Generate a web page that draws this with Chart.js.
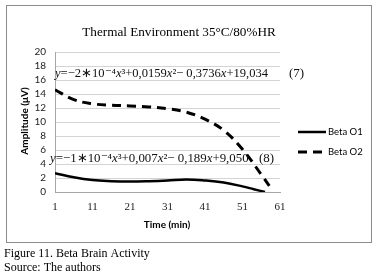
<!DOCTYPE html>
<html>
<head>
<meta charset="utf-8">
<script src="https://cdn.jsdelivr.net/npm/chart.js@4"></script>
<style>
  html, body { margin: 0; padding: 0; background: #fff; }
  #wrap { position: relative; width: 382px; height: 279px; }
</style>
</head>
<body>
<div id="wrap"><canvas id="chart" width="382" height="279"></canvas></div>
<script>
// values
let minutesO1 = [1, 6, 11, 16, 21, 26, 31, 36, 41, 46, 51, 54, 57];
let betaO1 = [2.7, 2.1, 1.7, 1.55, 1.5, 1.55, 1.65, 1.8, 1.65, 1.35, 0.8, 0.4, 0];
let minutesO2 = [1, 6, 11, 16, 21, 26, 31, 36, 41, 46, 51, 56, 58.5];
let betaO2 = [14.6, 13.2, 12.6, 12.4, 12.3, 12.15, 11.9, 11.4, 10.4, 8.8, 6.1, 2.5, 0.6];
let xTicks = [1, 11, 21, 31, 41, 51, 61];
let yTicks = [0, 2, 4, 6, 8, 10, 12, 14, 16, 18, 20];
let seriesNames = ["Beta O1", "Beta O2"];

const serif = "'Liberation Serif', 'Times New Roman', serif";
const sans = "Lato, 'Open Sans', sans-serif";

function toPoints(xs, ys) {
  return xs.map((x, i) => ({ x: x, y: ys[i] }));
}

// draws an equation stretched to a given width, italic for the variables
function drawEquation(ctx, parts, x, y, width) {
  let total = 0;
  parts.forEach(p => {
    ctx.font = (p[1] ? "italic " : "") + "12px " + serif;
    total += ctx.measureText(p[0]).width;
  });
  const size = 12 * width / total;
  parts.forEach(p => {
    ctx.font = (p[1] ? "italic " : "") + size + "px " + serif;
    ctx.fillText(p[0], x, y);
    x += ctx.measureText(p[0]).width;
  });
}

const eq7 = [["y", 1], ["=\u22122\u221710\u207B\u2074", 0], ["x", 1], ["\u00B3+0,0159", 0], ["x", 1], ["\u00B2\u2212 0,3736", 0], ["x", 1], ["+19,034", 0]];
const eq8 = [["y", 1], ["=\u22121\u221710\u207B\u2074", 0], ["x", 1], ["\u00B3+0,007", 0], ["x", 1], ["\u00B2\u2212 0,189", 0], ["x", 1], ["+9,050", 0]];

const decorations = {
  id: "decorations",
  beforeDraw(chart) {
    const ctx = chart.ctx;
    ctx.save();
    ctx.fillStyle = "#fff";
    ctx.fillRect(0, 0, chart.width, chart.height);
    ctx.strokeStyle = "#8c8c8c";
    ctx.lineWidth = 1;
    ctx.strokeRect(6.5, 5.5, 365, 237);
    ctx.restore();
  },
  afterDraw(chart) {
    const ctx = chart.ctx;
    ctx.save();
    ctx.fillStyle = "#000";
    ctx.textBaseline = "alphabetic";

    // title
    ctx.font = "13.2px " + serif;
    ctx.textAlign = "center";
    ctx.fillText("Thermal Environment 35\u00B0C/80%HR", 179, 36);

    // axis titles
    ctx.font = "bold 10px " + sans;
    ctx.fillText("Time (min)", 167, 228);
    ctx.save();
    ctx.translate(28, 121);
    ctx.rotate(-Math.PI / 2);
    ctx.fillText("Amplitude (\u03BCV)", 0, 0);
    ctx.restore();

    // equations
    ctx.textAlign = "left";
    ctx.fillStyle = "#111";
    drawEquation(ctx, eq7, 55, 77, 212);
    ctx.font = "13px " + serif;
    ctx.fillText("(7)", 289, 77);
    drawEquation(ctx, eq8, 50, 162, 198);
    ctx.font = "13px " + serif;
    ctx.fillText("(8)", 259, 162);

    // legend
    ctx.strokeStyle = "#000";
    ctx.lineWidth = 2.5;
    ctx.beginPath();
    ctx.moveTo(298, 132);
    ctx.lineTo(326, 132);
    ctx.stroke();
    ctx.lineWidth = 3;
    ctx.setLineDash([9, 6]);
    ctx.beginPath();
    ctx.moveTo(298, 152);
    ctx.lineTo(326, 152);
    ctx.stroke();
    ctx.setLineDash([]);
    ctx.font = "9.5px " + sans;
    ctx.fillStyle = "#000";
    ctx.textBaseline = "middle";
    ctx.fillText(seriesNames[0], 328, 132);
    ctx.fillText(seriesNames[1], 328, 152);

    // caption
    ctx.textBaseline = "alphabetic";
    ctx.font = "12px " + serif;
    ctx.fillText("Figure 11. Beta Brain Activity", 4, 257);
    ctx.fillText("Source: The authors", 4, 271);
    ctx.restore();
  }
};

const ctx = document.getElementById("chart").getContext("2d");

const myChart = new Chart(ctx, {
  type: "line",
  data: {
    datasets: [
      {
        label: seriesNames[0],
        data: toPoints(minutesO1, betaO1),
        borderColor: "#000",
        borderWidth: 2.5,
        pointRadius: 0,
        tension: 0.4,
        fill: false,
      },
      {
        label: seriesNames[1],
        data: toPoints(minutesO2, betaO2),
        borderColor: "#000",
        borderWidth: 3,
        borderDash: [9, 6],
        pointRadius: 0,
        tension: 0.4,
        fill: false,
      },
    ],
  },
  options: {
    responsive: false,
    animation: false,
    layout: { padding: { top: 52, right: 102, left: 0, bottom: 0 } },
    plugins: {
      legend: { display: false },
      tooltip: { enabled: false },
    },
    scales: {
      x: {
        type: "linear",
        min: 1,
        max: 61,
        afterFit: (scale) => { scale.height = 87; },
        afterBuildTicks: (scale) => { scale.ticks = xTicks.map(v => ({ value: v })); },
        grid: { display: false, drawTicks: false },
        border: { color: "#a6a6a6", width: 1 },
        ticks: {
          autoSkip: false,
          padding: 9,
          color: "#222",
          font: { family: serif, size: 11 },
          maxRotation: 0,
        },
      },
      y: {
        min: 0,
        max: 20,
        afterFit: (scale) => { scale.width = 55; },
        afterBuildTicks: (scale) => { scale.ticks = yTicks.map(v => ({ value: v })); },
        grid: { color: "#d4d4d4", drawTicks: false },
        border: { color: "#a6a6a6", width: 1 },
        ticks: {
          autoSkip: false,
          padding: 9,
          color: "#222",
          font: { family: sans, size: 10 },
        },
      },
    },
  },
  plugins: [decorations],
});
</script>
</body>
</html>
